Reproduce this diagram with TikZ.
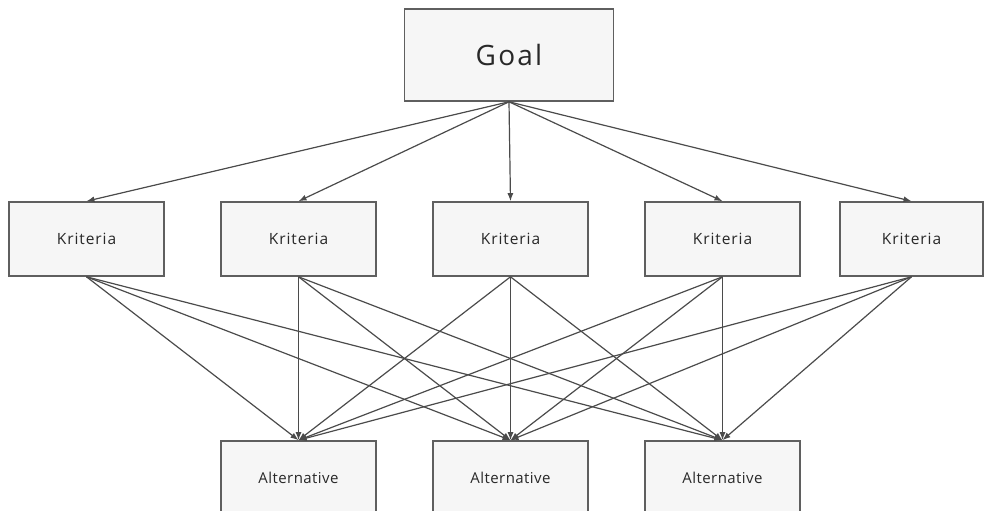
\documentclass[tikz,border=0pt]{standalone}
\usepackage{fontspec}
\setmainfont{Open Sans}
\usetikzlibrary{arrows.meta}
\definecolor{boxline}{RGB}{95,95,95}
\definecolor{conn}{RGB}{75,75,75}
\definecolor{boxfill}{RGB}{246,246,246}
\definecolor{txt}{RGB}{40,40,40}
\begin{document}
\begin{tikzpicture}[x=1pt,y=-1pt,
  boxstyle/.style={draw=boxline,line width=1.6pt,fill=boxfill,inner sep=0pt,text=txt},
  kbox/.style={boxstyle,minimum width=155pt,minimum height=74pt,font=\fontsize{15.5}{17}\selectfont\addfontfeature{LetterSpace=6}},
  abox/.style={boxstyle,minimum width=155pt,minimum height=74pt,font=\fontsize{15}{17}\selectfont\addfontfeature{LetterSpace=3}},
  gbox/.style={boxstyle,minimum width=209pt,minimum height=92pt,font=\fontsize{28}{32}\selectfont\addfontfeature{LetterSpace=8}},
  conline/.style={draw=conn,line width=1.2pt,-{Latex[length=8pt,width=6pt]}}
]
\useasboundingbox (0,0) rectangle (985,511);
\begin{scope}
\clip (0,0) rectangle (985,511);
\node[gbox] (g) at (509,55) {Goal};
\node[kbox] (k1) at (86.5,239) {Kriteria};
\node[kbox] (k2) at (298.5,239) {Kriteria};
\node[kbox] (k3) at (510.5,239) {Kriteria};
\node[kbox] (k4) at (722.5,239) {Kriteria};
\node[kbox,minimum width=143pt] (k5) at (911.5,239) {Kriteria};
\node[abox] (a1) at (298.5,478) {Alternative};
\node[abox] (a2) at (510.5,478) {Alternative};
\node[abox] (a3) at (722.5,478) {Alternative};
\foreach \k in {k1,k2,k3,k4,k5}{
  \draw[conline] (g.south) -- (\k.north);
  \foreach \a in {a1,a2,a3}{
    \draw[conline] (\k.south) -- (\a.north);
  }
}
\end{scope}
\end{tikzpicture}
\end{document}
